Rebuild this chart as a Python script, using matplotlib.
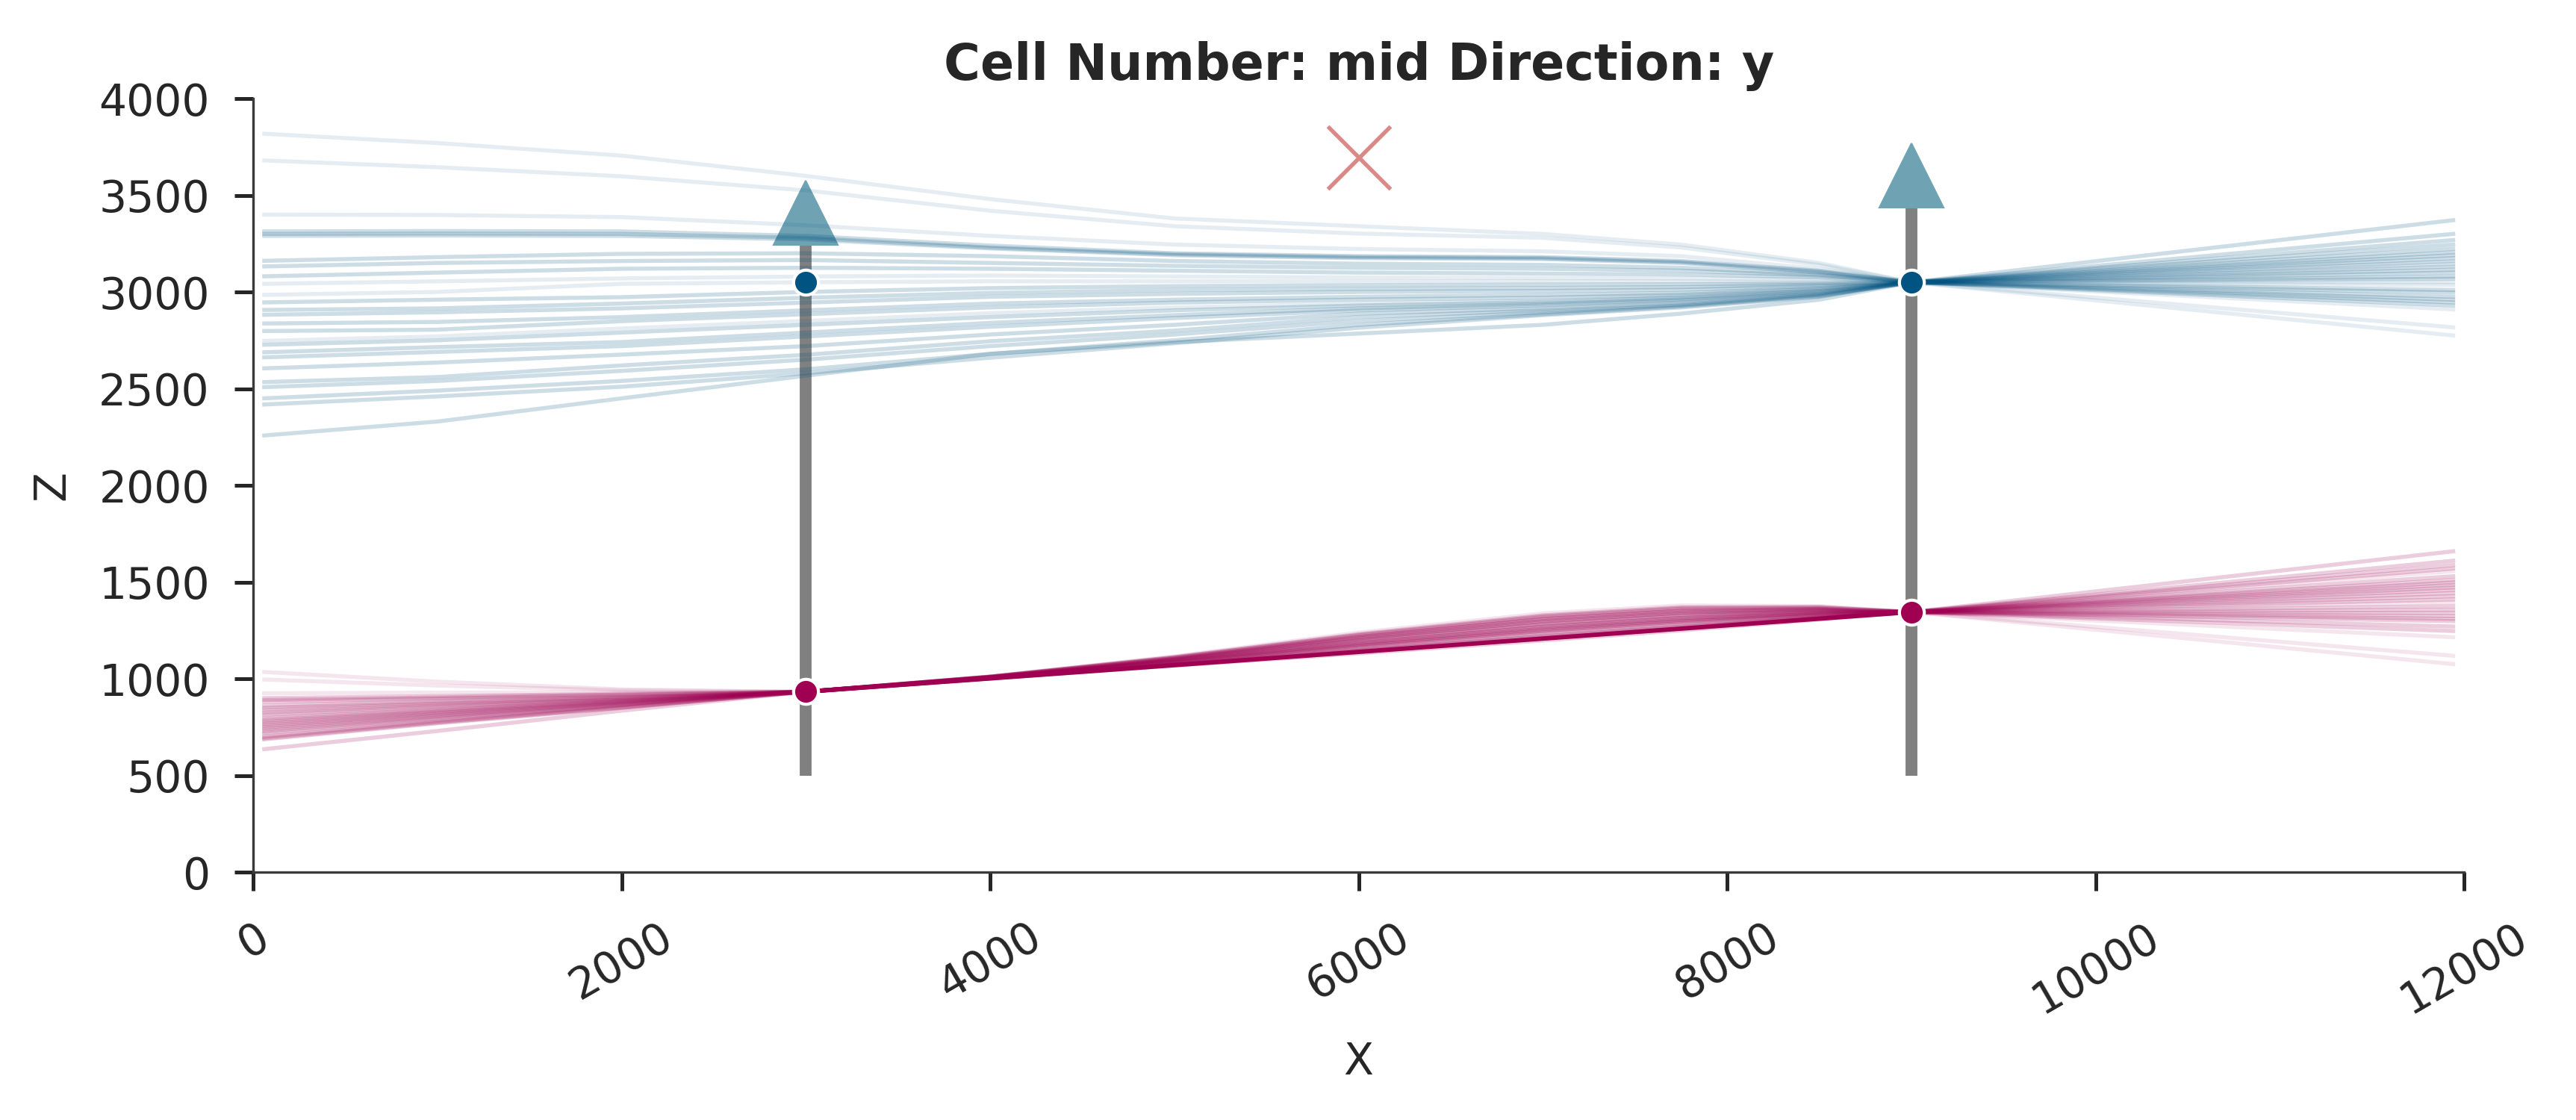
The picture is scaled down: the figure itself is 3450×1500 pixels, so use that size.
import numpy as np
import matplotlib.pyplot as plt
from matplotlib.transforms import offset_copy

x_nodes = [60, 1000, 2000, 3000, 4000, 5000, 6000, 7000, 7750, 8500, 9000, 11940]

# blue surface realizations (Z at x_nodes)
blue_lines = [
    [3818, 3770, 3705, 3600, 3480, 3380, 3340, 3300, 3245, 3150, 3050, 2775],
    [3680, 3645, 3598, 3525, 3420, 3340, 3302, 3280, 3230, 3140, 3050, 2817],
    [3400, 3398, 3387, 3345, 3290, 3245, 3222, 3210, 3185, 3120, 3050, 2910],
    [3313, 3315, 3313, 3290, 3240, 3200, 3185, 3180, 3160, 3110, 3050, 2930],
    [3300, 3302, 3300, 3280, 3230, 3195, 3180, 3175, 3155, 3105, 3050, 2946],
    [3290, 3292, 3290, 3272, 3225, 3190, 3175, 3170, 3150, 3100, 3050, 2960],
    [3161, 3180, 3197, 3200, 3185, 3160, 3146, 3140, 3125, 3090, 3050, 2975],
    [3132, 3150, 3160, 3165, 3150, 3135, 3125, 3120, 3110, 3085, 3050, 2997],
    [3081, 3100, 3120, 3125, 3120, 3110, 3100, 3095, 3090, 3075, 3050, 3010],
    [3042, 3055, 3070, 3080, 3085, 3080, 3075, 3072, 3070, 3065, 3050, 3036],
    [2985, 3000, 3042, 3050, 3055, 3055, 3055, 3055, 3055, 3052, 3050, 3050],
    [2946, 2960, 2973, 3000, 3020, 3030, 3035, 3038, 3040, 3045, 3050, 3068],
    [2907, 2915, 2940, 2970, 2995, 3010, 3016, 3020, 3025, 3038, 3050, 3080],
    [2882, 2895, 2915, 2945, 2975, 2990, 3000, 3005, 3012, 3030, 3050, 3100],
    [2837, 2845, 2870, 2905, 2940, 2960, 2975, 2985, 2995, 3020, 3050, 3115],
    [2798, 2805, 2849, 2885, 2920, 2945, 2960, 2970, 2985, 3015, 3050, 3132],
    [2747, 2770, 2811, 2850, 2890, 2920, 2940, 2955, 2975, 3010, 3050, 3145],
    [2727, 2750, 2790, 2830, 2870, 2905, 2930, 2948, 2970, 3005, 3050, 3158],
    [2688, 2715, 2741, 2790, 2840, 2880, 2915, 2938, 2962, 3000, 3050, 3175],
    [2662, 2690, 2720, 2770, 2820, 2865, 2905, 2930, 2955, 2995, 3050, 3190],
    [2605, 2635, 2676, 2720, 2780, 2830, 2888, 2915, 2945, 2990, 3050, 3205],
    [2534, 2560, 2620, 2675, 2745, 2800, 2870, 2905, 2935, 2985, 3050, 3223],
    [2508, 2540, 2592, 2650, 2720, 2780, 2850, 2895, 2930, 2982, 3050, 3245],
    [2450, 2490, 2540, 2600, 2680, 2750, 2830, 2885, 2925, 2978, 3050, 3268],
    [2418, 2460, 2510, 2580, 2660, 2735, 2815, 2880, 2920, 2975, 3050, 3300],
    [2258, 2330, 2450, 2567, 2680, 2740, 2785, 2830, 2888, 2960, 3050, 3371],
]
blue_counts = [1, 1, 1, 2, 2, 2, 2, 2, 2, 1, 1, 2, 2, 2, 2, 2, 1, 2, 2, 2, 2, 2, 2, 2, 2, 2]

# magenta surface realizations
magenta_lines = [
    [1035, 985, 945, 932, 1003, 1074, 1147, 1218, 1268, 1316, 1345, 1076],
    [996, 965, 940, 932, 1003, 1076, 1151, 1223, 1273, 1318, 1345, 1119],
    [925, 928, 930, 933, 1004, 1081, 1162, 1238, 1287, 1326, 1345, 1215],
    [900, 910, 922, 933, 1005, 1085, 1170, 1248, 1296, 1331, 1345, 1247],
    [890, 903, 918, 933, 1006, 1088, 1177, 1258, 1305, 1336, 1345, 1270],
    [880, 897, 915, 933, 1007, 1092, 1185, 1268, 1314, 1341, 1345, 1298],
    [861, 885, 908, 933, 1007, 1095, 1193, 1278, 1324, 1346, 1345, 1310],
    [850, 877, 903, 933, 1008, 1099, 1201, 1288, 1333, 1351, 1345, 1324],
    [838, 870, 900, 933, 1009, 1102, 1208, 1298, 1342, 1356, 1345, 1340],
    [826, 862, 896, 933, 1010, 1106, 1216, 1308, 1351, 1361, 1345, 1356],
    [815, 855, 893, 933, 1011, 1111, 1227, 1323, 1365, 1369, 1345, 1375],
    [805, 848, 890, 933, 1012, 1116, 1239, 1338, 1379, 1376, 1345, 1395],
    [795, 841, 887, 933, 1011, 1112, 1231, 1328, 1370, 1371, 1345, 1410],
    [785, 835, 884, 933, 1010, 1109, 1224, 1318, 1361, 1366, 1345, 1427],
    [776, 829, 881, 933, 1010, 1106, 1216, 1308, 1351, 1361, 1345, 1443],
    [767, 823, 878, 933, 1009, 1102, 1208, 1298, 1342, 1356, 1345, 1459],
    [758, 817, 875, 933, 1008, 1097, 1197, 1283, 1328, 1349, 1345, 1472],
    [749, 811, 872, 933, 1007, 1092, 1185, 1268, 1314, 1341, 1345, 1485],
    [740, 805, 869, 933, 1006, 1088, 1177, 1258, 1305, 1336, 1345, 1498],
    [730, 798, 865, 933, 1005, 1085, 1170, 1248, 1296, 1331, 1345, 1511],
    [720, 792, 862, 933, 1004, 1081, 1162, 1238, 1287, 1326, 1345, 1530],
    [710, 785, 858, 933, 1004, 1078, 1154, 1228, 1277, 1321, 1345, 1556],
    [700, 778, 854, 933, 1003, 1074, 1147, 1218, 1268, 1316, 1345, 1570],
    [692, 773, 851, 933, 1002, 1073, 1143, 1213, 1264, 1314, 1345, 1588],
    [687, 770, 849, 933, 1002, 1071, 1139, 1208, 1259, 1311, 1345, 1610],
    [636, 730, 835, 933, 1001, 1068, 1131, 1198, 1250, 1306, 1345, 1659],
]
magenta_counts = [1, 1, 1, 2, 2, 2, 2, 2, 2, 2, 2, 1, 2, 2, 2, 2, 2, 2, 2, 2, 2, 1, 2, 2, 2, 2]

# surface points
sp_x = [3000, 9000]
blue_z = [3052, 3052]
magenta_z = [933, 1345]

# orientation arrows (shaft from z0 to head base)
arrow_x = [3000, 9000]
arrow_z0 = [500, 500]
arrow_z1 = [3244, 3435]

# fault / unknown marker
mark_x = [6000]
mark_z = [3695]

blue = '#015482'
magenta = '#9f0052'
dark = '#262626'

fig = plt.figure(figsize=(11.5, 5), dpi=300)
ax = fig.add_axes([0.0983, 0.2213, 0.8583, 0.6907])

for z, n in zip(blue_lines, blue_counts):
    for _ in range(n):
        ax.plot(x_nodes, z, color=blue, alpha=0.1, lw=1.3, zorder=3)

for z, n in zip(magenta_lines, magenta_counts):
    for _ in range(n):
        ax.plot(x_nodes, z, color=magenta, alpha=0.1, lw=1.3, zorder=3)

ax.plot(sp_x, magenta_z, color=magenta, lw=1.4, zorder=4)

# arrows: gray shaft + triangle head
for x, z0, z1 in zip(arrow_x, arrow_z0, arrow_z1):
    ax.plot([x, x], [z0, z1], color='#808080', lw=3.8, solid_capstyle='butt', zorder=2)
head_tr = offset_copy(ax.transData, fig=fig, y=10.3, units='points')
ax.plot(arrow_x, arrow_z1, ls='none', marker='^', ms=20.6, color='#6fa3b3',
        mec='#6fa3b3', mew=0.5, transform=head_tr, zorder=2)

ax.plot(mark_x, mark_z, ls='none', marker='x', ms=20, mew=1.3, color='#da8a86', zorder=5)

ax.plot(sp_x, blue_z, ls='none', marker='o', ms=8, color=blue, mec='white', mew=1.0, zorder=6)
ax.plot(sp_x, magenta_z, ls='none', marker='o', ms=8, color=magenta, mec='white', mew=1.0, zorder=6)

ax.set_xlim(0, 12000)
ax.set_ylim(0, 4000)
ax.set_xticks(np.arange(0, 12001, 2000))
ax.set_yticks(np.arange(0, 4001, 500))
ax.tick_params(axis='both', labelsize=14, length=6, width=1.2, color=dark, labelcolor=dark, pad=8)
ax.tick_params(axis='x', labelrotation=30)
for side in ['top', 'right']:
    ax.spines[side].set_visible(False)
for side in ['left', 'bottom']:
    ax.spines[side].set_linewidth(0.8)
    ax.spines[side].set_color('#3a3a3a')

ax.set_xlabel('X', fontsize=14, color=dark, labelpad=6)
ax.set_ylabel('Z', fontsize=14, color=dark, labelpad=8)
ax.set_title('Cell Number: mid Direction: y', fontsize=16, fontweight='bold', color=dark, pad=6)

fig.savefig('out.png', dpi=300)
